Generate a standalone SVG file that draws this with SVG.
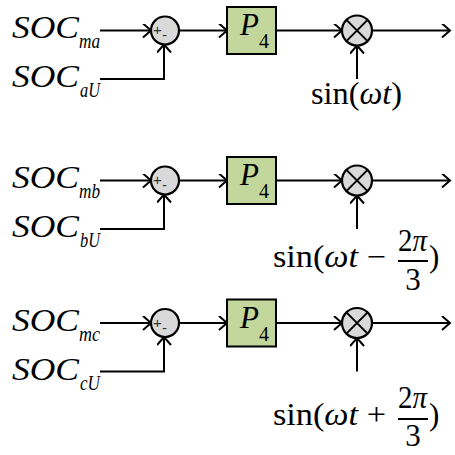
<svg xmlns="http://www.w3.org/2000/svg" width="455" height="455" viewBox="0 0 455 455">
<defs>
<marker id="arr" markerUnits="userSpaceOnUse" markerWidth="14" markerHeight="16" refX="10" refY="7" orient="auto" viewBox="0 0 14 16">
<path d="M2,0 L10,7 L2,14" fill="none" stroke="#000" stroke-width="2"/>
</marker>
</defs>
<style>
.ln{fill:none;stroke:#000;stroke-width:2}
.sum{fill:#d9d9d9;stroke:#000;stroke-width:2.2}
.box{fill:#c3d69b;stroke:#000;stroke-width:2}
.t{font-family:'Liberation Serif','Times New Roman',Times,serif;font-size:31px;fill:#000}
.i{font-style:italic}
.s{font-family:'Liberation Serif','Times New Roman',Times,serif;font-size:20px;font-style:italic;fill:#000}
.n{font-family:'Liberation Serif','Times New Roman',Times,serif;font-size:20px;fill:#000}
.pm{font-family:'Liberation Sans',Arial,sans-serif;font-size:15px;fill:#333}
</style>
<g id="connectors">
<line class="ln" x1="100" y1="30.5" x2="151" y2="30.5" marker-end="url(#arr)"/>
<polyline class="ln" points="100,79 164,79 164,44.5" marker-end="url(#arr)"/>
<line class="ln" x1="179" y1="30.5" x2="227" y2="30.5" marker-end="url(#arr)"/>
<line class="ln" x1="276" y1="30.5" x2="342" y2="30.5" marker-end="url(#arr)"/>
<line class="ln" x1="357" y1="79" x2="357" y2="45.5" marker-end="url(#arr)"/>
<line class="ln" x1="372" y1="30.5" x2="450" y2="30.5" marker-end="url(#arr)"/>

<line class="ln" x1="100" y1="180.5" x2="151" y2="180.5" marker-end="url(#arr)"/>
<polyline class="ln" points="100,229 164,229 164,194.5" marker-end="url(#arr)"/>
<line class="ln" x1="179" y1="180.5" x2="227" y2="180.5" marker-end="url(#arr)"/>
<line class="ln" x1="276" y1="180.5" x2="342" y2="180.5" marker-end="url(#arr)"/>
<line class="ln" x1="357" y1="229" x2="357" y2="195.5" marker-end="url(#arr)"/>
<line class="ln" x1="372" y1="180.5" x2="450" y2="180.5" marker-end="url(#arr)"/>

<line class="ln" x1="100" y1="323" x2="151" y2="323" marker-end="url(#arr)"/>
<polyline class="ln" points="100,371.5 164,371.5 164,337" marker-end="url(#arr)"/>
<line class="ln" x1="179" y1="323" x2="227" y2="323" marker-end="url(#arr)"/>
<line class="ln" x1="276" y1="323" x2="342" y2="323" marker-end="url(#arr)"/>
<line class="ln" x1="357" y1="371.5" x2="357" y2="338" marker-end="url(#arr)"/>
<line class="ln" x1="372" y1="323" x2="450" y2="323" marker-end="url(#arr)"/>
</g>

<g id="in-ma"><text class="t i" x="12" y="38" textLength="67" lengthAdjust="spacingAndGlyphs">SOC</text><text class="s" x="79" y="48" textLength="21" lengthAdjust="spacingAndGlyphs">ma</text></g>
<g id="in-aU"><text class="t i" x="12" y="87" textLength="67" lengthAdjust="spacingAndGlyphs">SOC</text><text class="s" x="80" y="97" textLength="20" lengthAdjust="spacingAndGlyphs">aU</text></g>
<g id="sum-a"><circle class="sum" cx="165" cy="30.5" r="14"/><text class="pm" x="153" y="35">+</text><text class="pm" x="162" y="40">-</text></g>
<g id="p4-a"><rect class="box" x="227" y="7" width="49" height="47"/><text class="t i" x="240" y="35">P</text><text class="n" x="259" y="48">4</text></g>
<g id="mul-a"><circle class="sum" cx="357" cy="30.5" r="15"/><path class="ln" d="M346.4,19.9 L367.6,41.1 M367.6,19.9 L346.4,41.1"/></g>
<g id="sin-a"><text class="t" x="311" y="104" textLength="91" lengthAdjust="spacingAndGlyphs">sin(<tspan class="i">ωt</tspan>)</text></g>

<g id="in-mb"><text class="t i" x="12" y="188" textLength="67" lengthAdjust="spacingAndGlyphs">SOC</text><text class="s" x="79" y="198" textLength="21" lengthAdjust="spacingAndGlyphs">mb</text></g>
<g id="in-bU"><text class="t i" x="12" y="237" textLength="67" lengthAdjust="spacingAndGlyphs">SOC</text><text class="s" x="80" y="247" textLength="20" lengthAdjust="spacingAndGlyphs">bU</text></g>
<g id="sum-b"><circle class="sum" cx="165" cy="180.5" r="14"/><text class="pm" x="153" y="185">+</text><text class="pm" x="162" y="190">-</text></g>
<g id="p4-b"><rect class="box" x="227" y="157" width="49" height="47"/><text class="t i" x="240" y="185">P</text><text class="n" x="259" y="198">4</text></g>
<g id="mul-b"><circle class="sum" cx="357" cy="180.5" r="15"/><path class="ln" d="M346.4,169.9 L367.6,191.1 M367.6,169.9 L346.4,191.1"/></g>
<g id="sin-b"><text class="t" x="273" y="267" textLength="113" lengthAdjust="spacingAndGlyphs">sin(<tspan class="i">ωt</tspan> −</text><text class="t" x="398" y="251" textLength="29" lengthAdjust="spacingAndGlyphs">2<tspan class="i">π</tspan></text><line class="ln" x1="398" y1="261" x2="428" y2="261" stroke-width="1.5"/><text class="t" x="413" y="290" text-anchor="middle">3</text><text class="t" x="429" y="267">)</text></g>

<g id="in-mc"><text class="t i" x="12" y="331" textLength="67" lengthAdjust="spacingAndGlyphs">SOC</text><text class="s" x="79" y="341" textLength="21" lengthAdjust="spacingAndGlyphs">mc</text></g>
<g id="in-cU"><text class="t i" x="12" y="380" textLength="67" lengthAdjust="spacingAndGlyphs">SOC</text><text class="s" x="80" y="390" textLength="20" lengthAdjust="spacingAndGlyphs">cU</text></g>
<g id="sum-c"><circle class="sum" cx="165" cy="323" r="14"/><text class="pm" x="153" y="327.5">+</text><text class="pm" x="162" y="332.5">-</text></g>
<g id="p4-c"><rect class="box" x="227" y="299.5" width="49" height="47"/><text class="t i" x="240" y="327.5">P</text><text class="n" x="259" y="340.5">4</text></g>
<g id="mul-c"><circle class="sum" cx="357" cy="323" r="15"/><path class="ln" d="M346.4,312.4 L367.6,333.6 M367.6,312.4 L346.4,333.6"/></g>
<g id="sin-c"><text class="t" x="273" y="425" textLength="113" lengthAdjust="spacingAndGlyphs">sin(<tspan class="i">ωt</tspan> +</text><text class="t" x="398" y="408" textLength="29" lengthAdjust="spacingAndGlyphs">2<tspan class="i">π</tspan></text><line class="ln" x1="398" y1="419" x2="428" y2="419" stroke-width="1.5"/><text class="t" x="413" y="446" text-anchor="middle">3</text><text class="t" x="429" y="425">)</text></g>
</svg>
